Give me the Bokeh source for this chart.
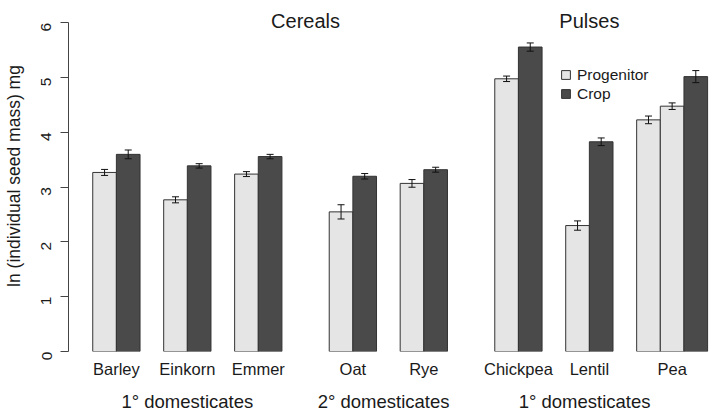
import math
from bokeh.plotting import figure
from bokeh.models import (ColumnDataSource, Range1d, FixedTicker, Whisker, TeeHead,
                          Legend, LegendItem, LinearAxis, CDSView, IndexFilter, Label)
from bokeh.embed import file_html
from bokeh.resources import INLINE

# ---------------- data ----------------
crops = ["Barley", "Einkorn", "Emmer", "Oat", "Rye", "Chickpea", "Lentil", "Pea"]
crop_section = ["cer1", "cer1", "cer1", "cer2", "cer2", "pul1", "pul1", "pul1"]
section_labels = {"cer1": "1° domesticates", "cer2": "2° domesticates", "pul1": "1° domesticates"}
group_titles = ["Cereals", "Pulses"]

bar_crop = ["Barley", "Barley", "Einkorn", "Einkorn", "Emmer", "Emmer",
            "Oat", "Oat", "Rye", "Rye",
            "Chickpea", "Chickpea", "Lentil", "Lentil", "Pea", "Pea", "Pea"]
bar_type = ["Progenitor", "Crop", "Progenitor", "Crop", "Progenitor", "Crop",
            "Progenitor", "Crop", "Progenitor", "Crop",
            "Progenitor", "Crop", "Progenitor", "Crop", "Progenitor", "Progenitor", "Crop"]
bar_mean = [3.27, 3.60, 2.77, 3.39, 3.24, 3.56,
            2.55, 3.20, 3.07, 3.32,
            4.98, 5.56, 2.30, 3.83, 4.23, 4.48, 5.02]
bar_se = [0.055, 0.08, 0.055, 0.04, 0.045, 0.04,
          0.13, 0.05, 0.07, 0.045,
          0.05, 0.075, 0.085, 0.07, 0.07, 0.06, 0.11]

y_ticks = [0, 1, 2, 3, 4, 5, 6]

# ---------------- layout (bar slots of width 1) ----------------
sec_of = dict(zip(crops, crop_section))
xs = []
pos = 0.0
prev = None
for c in bar_crop:
    if prev is not None and c != prev:
        pos += 2.0 if sec_of[c] != sec_of[prev] else 1.0
    xs.append(pos + 0.5)
    pos += 1.0
    prev = c

crop_centers = {}
for c in crops:
    cx = [x for x, bc in zip(xs, bar_crop) if bc == c]
    crop_centers[c] = sum(cx) / len(cx)

colors = {"Progenitor": "#E5E5E5", "Crop": "#4A4A4A"}
src = ColumnDataSource(dict(
    x=xs, top=bar_mean, kind=bar_type,
    color=[colors[t] for t in bar_type],
    upper=[m + s for m, s in zip(bar_mean, bar_se)],
    lower=[m - s for m, s in zip(bar_mean, bar_se)],
))

FONT = "Liberation Sans"
TXT = "#1a1a1a"

p = figure(width=709, height=414, output_backend="svg", toolbar_location=None,
           x_range=Range1d(-1.025, 26.08), y_range=Range1d(0, 6.41),
           min_border_left=67, min_border_right=0, min_border_top=0, min_border_bottom=60)
p.outline_line_color = None
p.grid.visible = False
p.background_fill_color = "white"
p.border_fill_color = "white"

prog_idx = [i for i, t in enumerate(bar_type) if t == "Progenitor"]
crop_idx = [i for i, t in enumerate(bar_type) if t == "Crop"]
r_prog = p.vbar(x="x", top="top", bottom=0, width=1.0, source=src,
                view=CDSView(filter=IndexFilter(prog_idx)),
                fill_color="color", line_color="#333333", line_width=1)
r_crop = p.vbar(x="x", top="top", bottom=0, width=1.0, source=src,
                view=CDSView(filter=IndexFilter(crop_idx)),
                fill_color="color", line_color="#333333", line_width=1)

w = Whisker(source=src, base="x", upper="upper", lower="lower",
            line_color="#111111", line_width=1, level="overlay",
            upper_head=TeeHead(size=7, line_color="#111111", line_width=1),
            lower_head=TeeHead(size=7, line_color="#111111", line_width=1))
p.add_layout(w)

# y axis
ya = p.yaxis[0]
ya.ticker = FixedTicker(ticks=y_ticks)
ya.bounds = (min(y_ticks), max(y_ticks))
ya.axis_label = "ln (individual seed mass) mg"
ya.axis_label_text_font = FONT
ya.axis_label_text_font_size = "17.5px"
ya.axis_label_text_font_style = "normal"
ya.axis_label_text_color = TXT
ya.axis_label_standoff = 10
ya.major_label_orientation = math.pi / 2
ya.major_label_text_font = FONT
ya.major_label_text_font_size = "15.5px"
ya.major_label_text_color = TXT
ya.major_label_standoff = 14
ya.major_tick_out = 8
ya.major_tick_in = 0
ya.minor_tick_line_color = None
ya.axis_line_color = "#444444"
ya.major_tick_line_color = "#444444"

def plain_axis(ax, ticks, labels, size, standoff):
    ax.ticker = FixedTicker(ticks=ticks)
    ax.major_label_overrides = dict(zip(ticks, labels))
    ax.axis_line_color = None
    ax.major_tick_line_color = None
    ax.minor_tick_line_color = None
    ax.major_tick_out = 0
    ax.major_tick_in = 0
    ax.major_label_standoff = standoff
    ax.major_label_text_font = FONT
    ax.major_label_text_font_size = size
    ax.major_label_text_color = TXT

# x axis: crop names
plain_axis(p.xaxis[0], [crop_centers[c] for c in crops], crops, "16.5px", 8)

# second axis below: domestication type
sec_x = {}
bx = [x for x, bc in zip(xs, bar_crop) if sec_of[bc] == "cer1"]
sec_x["cer1"] = (min(bx) + max(bx)) / 2
sec_x["cer2"] = 12.3
sec_x["pul1"] = 20.8
ax2 = LinearAxis()
plain_axis(ax2, [sec_x[s] for s in ["cer1", "cer2", "pul1"]],
           [section_labels[s] for s in ["cer1", "cer2", "pul1"]], "18.5px", 10)
p.add_layout(ax2, "below")

# crop group titles (inside the top of the plot region)
emmer_end = max(x for x, bc in zip(xs, bar_crop) if bc == "Emmer") + 0.5
oat_start = min(x for x, bc in zip(xs, bar_crop) if bc == "Oat") - 0.5
title_x = [(emmer_end + oat_start) / 2, crop_centers["Lentil"]]
for tx, tt in zip(title_x, group_titles):
    p.add_layout(Label(x=tx, y=6.04, text=tt, text_align="center",
                       text_baseline="alphabetic", text_font=FONT,
                       text_font_size="20px", text_color=TXT))

legend = Legend(items=[LegendItem(label="Progenitor", renderers=[r_prog]),
                       LegendItem(label="Crop", renderers=[r_crop])],
                location=(492, 248), orientation="vertical",
                glyph_width=11, glyph_height=11, label_standoff=6,
                label_height=19, spacing=0, padding=0, margin=0,
                border_line_color=None, background_fill_alpha=0,
                label_text_font=FONT, label_text_font_size="15.5px",
                label_text_color=TXT)
p.add_layout(legend)

open("out.html", "w").write(file_html(p, INLINE))
